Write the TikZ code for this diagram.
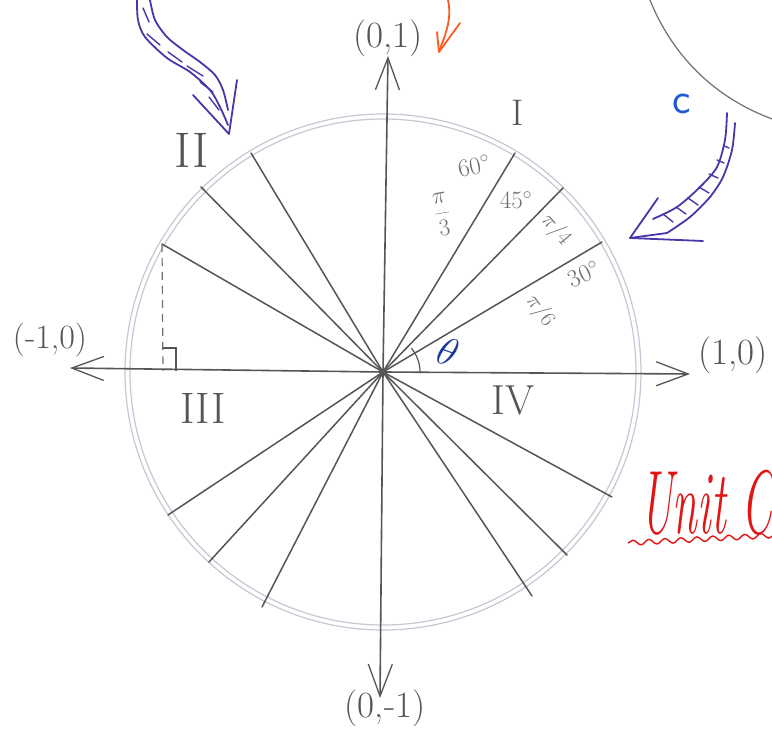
\RequirePackage{fix-cm}
\documentclass[tikz,border=0pt]{standalone}
\usetikzlibrary{arrows.meta,decorations.pathmorphing,calc}
\definecolor{pencil}{HTML}{555555}
\definecolor{lightpencil}{HTML}{707070}
\definecolor{circgray}{HTML}{C4C7D4}
\definecolor{purp}{HTML}{4A36A8}
\definecolor{orng}{HTML}{FF5A1F}
\definecolor{bluec}{HTML}{1E5BD6}
\definecolor{thetablue}{HTML}{1838A0}
\definecolor{redc}{HTML}{E01515}
\begin{document}
\begin{tikzpicture}[x=1pt,y=-1pt,
  axis/.style={draw=pencil, line width=1.6pt, line cap=round,
    -{Straight Barb[length=32pt,width=24pt,line width=1.3pt]}},
  ray/.style={draw=pencil, line width=1.5pt, line cap=round},
  circline/.style={draw=circgray, line width=1.2pt},
  coordlbl/.style={text=pencil, inner sep=0pt, font=\fontsize{37}{37}\selectfont},
  quadlbl/.style={text=pencil, inner sep=0pt},
  anglbl/.style={text=lightpencil, inner sep=0pt, font=\fontsize{25}{25}\selectfont},
  purparrow/.style={draw=purp, line width=1.8pt, line cap=round, line join=round},
  hatch/.style={draw=purp, line width=1.4pt, line cap=round},
]
\useasboundingbox (0,0) rectangle (772,735);
\clip (0,0) rectangle (772,735);

% centre
\coordinate (O) at (383,372);

% circle (double pencil line)
\draw[circline] (O) circle[radius=258];
\draw[circline] (O) circle[radius=253];

% axes
\coordinate (xl) at (70,368);
\coordinate (xr) at (690,374);
\coordinate (yt) at (388,56);
\coordinate (yb) at (380,698);
\draw[axis] (O) -- (xl);
\draw[axis] (O) -- (xr);
\draw[axis] (O) -- (yt);
\draw[axis] (O) -- (yb);

% radial lines
\coordinate (a30) at (602,242);
\coordinate (a45) at (563,188);
\coordinate (a60) at (515,153);
\coordinate (a120) at (251,153);
\coordinate (a135) at (201,187);
\coordinate (a150) at (162,244);
\coordinate (a210) at (168,515);
\coordinate (a225) at (209,562);
\coordinate (a240) at (262,607);
\coordinate (a300) at (532,596);
\coordinate (a315) at (567,555);
\coordinate (a330) at (612,497);
\foreach \p in {a30,a45,a60,a120,a135,a150,a210,a225,a240,a300,a315,a330}
  \draw[ray] (O) -- (\p);

% dashed drop and right angle
\coordinate (foot) at (163,371);
\draw[draw=lightpencil, line width=1.2pt, dash pattern=on 8pt off 6pt] (a150) -- (foot);
\coordinate (ra1) at (163,348);
\coordinate (ra2) at (176,348);
\coordinate (ra3) at (176,371);
\draw[draw=pencil, line width=1.3pt] (ra1) -- (ra2) -- (ra3);

% theta arc
\draw[draw=pencil, line width=1.2pt] (O) ++(37,0) arc[start angle=0, end angle=-40, radius=37];
\node[text=thetablue, inner sep=0pt, rotate=-20, font=\fontsize{40}{40}\selectfont] (theta) at (448,352) {$\theta$};

% coordinate labels
\node[coordlbl] (p01) at (388,38) {(0,1)};
\node[coordlbl] (p0m1) at (385,708) {(0,-1)};
\node[coordlbl, font=\fontsize{34}{34}\selectfont] (pm10) at (50,340) {(-1,0)};
\node[coordlbl] (p10) at (733,355) {(1,0)};

% quadrant labels
\node[quadlbl, font=\fontsize{37}{37}\selectfont] (q1) at (518,113) {I};
\node[quadlbl, font=\fontsize{50}{50}\selectfont] (q2) at (192,150) {II};
\node[quadlbl, font=\fontsize{44}{44}\selectfont] (q3) at (203,408) {III};
\node[quadlbl, font=\fontsize{42}{42}\selectfont] (q4) at (513,400) {IV};

% angle labels
\node[anglbl, rotate=12] (d60) at (474,166) {60$^\circ$};
\node[anglbl, rotate=10, font=\fontsize{24}{24}\selectfont] (r60) at (442,214) {$\displaystyle\frac{\pi}{3}$};
\node[anglbl, rotate=0] (d45) at (516,200) {45$^\circ$};
\node[anglbl, rotate=-50, font=\fontsize{22}{22}\selectfont] (r45) at (556,230) {$\pi/4$};
\node[anglbl, rotate=25] (d30) at (584,274) {30$^\circ$};
\node[anglbl, rotate=-55, font=\fontsize{22}{22}\selectfont] (r30) at (540,311) {$\pi/6$};

% blue c
\node[text=bluec, inner sep=0pt, font=\sffamily\fontsize{44}{44}\selectfont] (cc) at (682,104) {c};

% red title
\node[text=redc, inner sep=0pt, anchor=base west, font=\itshape\fontsize{90}{90}\selectfont] (title) at (640,533) {\scalebox{0.5}[1]{Unit C}};
\coordinate (wv1) at (628,543);
\coordinate (wv2) at (780,535);
\draw[draw=redc, line width=1.4pt, decorate, decoration={snake, amplitude=2.5pt, segment length=16pt}] (wv1) -- (wv2);

% grey curve top right
\draw[draw=lightpencil, line width=1.2pt] (650,0) .. controls (668,45) and (705,95) .. (775,120);

% orange arrow
\draw[draw=orng, line width=1.8pt, line cap=round] (448,0) .. controls (452,18) and (446,34) .. (439,51);
\draw[draw=orng, line width=1.8pt, line cap=round, line join=round] (437,32) -- (439,52) -- (460,23);

% purple arrow top-left
\draw[purparrow] plot[smooth] coordinates {(137,0) (138,20) (145,37) (167,58) (190,72) (210,90) (220,107) (228,125)};
\draw[purparrow] plot[smooth] coordinates {(150,0) (155,20) (167,37) (183,50) (200,62) (215,75) (223,90) (228,110)};
\draw[purparrow] (237,80) -- (229,134) -- (193,95);
\draw[hatch] (143,8) -- (149,22);
\draw[hatch] (147,34) -- (160,45);
\draw[hatch] (168,52) -- (182,62);
\draw[hatch] (187,66) -- (203,76);
\draw[hatch] (200,82) -- (213,92);
\draw[hatch] (209,97) -- (219,110);

% purple arrow right
\draw[purparrow] plot[smooth] coordinates {(727,113) (725,140) (717,167) (700,187) (677,207) (653,219)};
\draw[purparrow] plot[smooth] coordinates {(735,123) (732,150) (723,177) (710,197) (690,217) (667,233)};
\draw[purparrow] (658,198) -- (630,238) -- (703,241);
\draw[purparrow] (630,238) -- (667,233);
\draw[hatch] (724,146) -- (729,148);
\draw[hatch] (717,160) -- (724,163);
\draw[hatch] (709,174) -- (718,178);
\draw[hatch] (699,187) -- (709,193);
\draw[hatch] (688,198) -- (698,205);
\draw[hatch] (676,207) -- (686,214);
\draw[hatch] (663,214) -- (673,222);

\end{tikzpicture}
\end{document}
